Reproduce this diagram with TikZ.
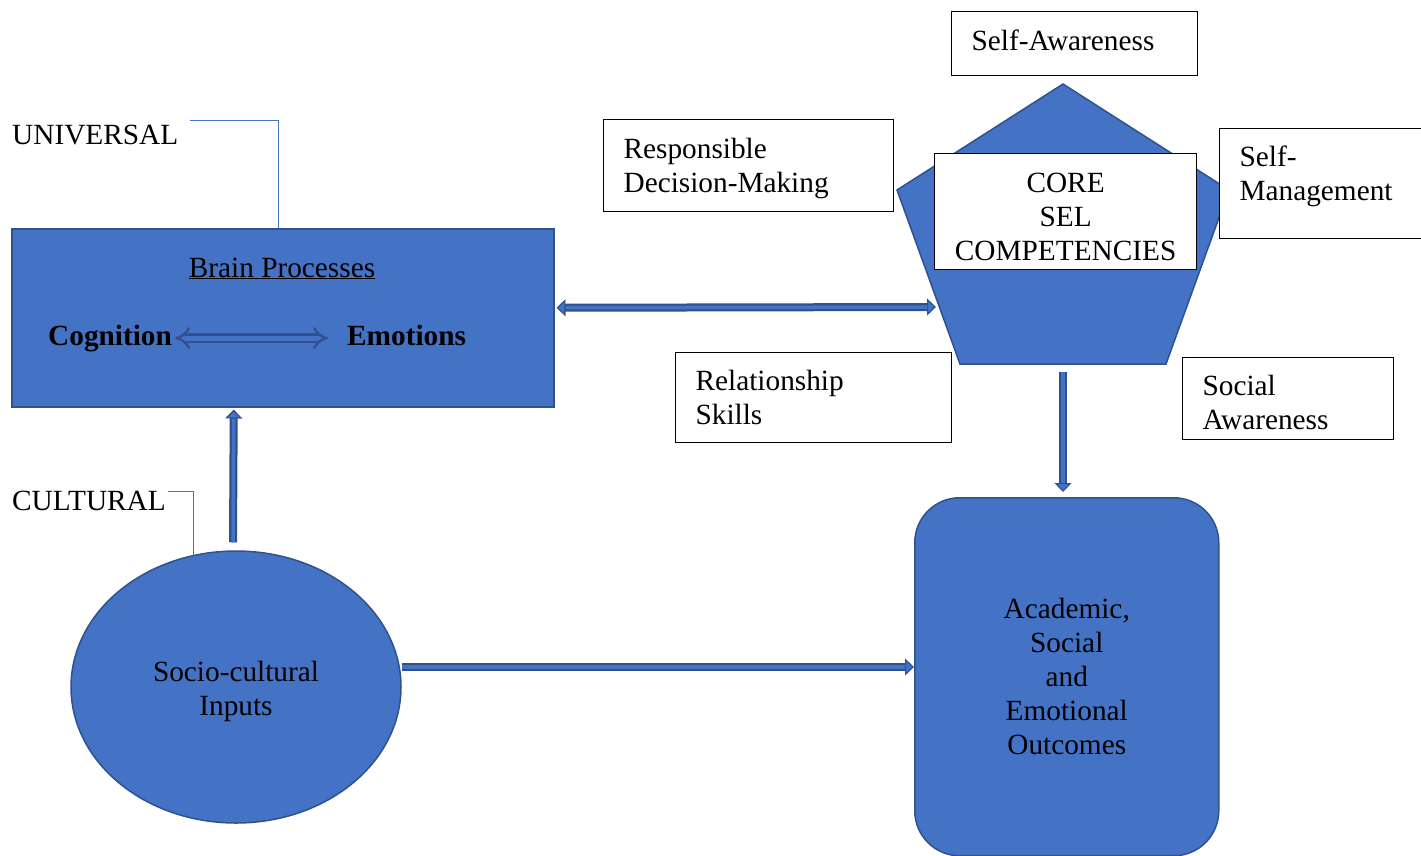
\documentclass[tikz,border=0pt]{standalone}
\usepackage{fontspec}
\setmainfont{Liberation Serif}
\usetikzlibrary{arrows.meta,shapes.geometric}

\definecolor{selblue}{HTML}{4472C4}   % shape fill
\definecolor{seldark}{HTML}{2F528F}   % shape outline / arrows

% struts to nudge text inside the boxes
\newcommand{\upstrut}[1]{\rule{0pt}{#1}}
\newcommand{\downstrut}[1]{\rule[-#1]{0pt}{0pt}}

\begin{document}
\begin{tikzpicture}[x=1pt, y=-1pt,
  font=\fontsize{29.3}{34}\selectfont]

% =======================================================
% Styles
% =======================================================
\tikzset{
  blueshape/.style = {fill=selblue, draw=seldark, line width=1.5pt},
  selbox/.style    = {draw=black, fill=white, line width=1.2pt,
                      inner xsep=20pt, inner ysep=0pt, align=left},
  tag/.style       = {inner sep=0pt},
  callout/.style   = {draw=selblue, line width=1pt},
  arrowbody/.style = {draw=seldark, line width=8pt},
  arrowcore/.style = {draw=selblue, line width=3.5pt},
  impl/.style      = {draw=seldark, double=selblue, double distance=5pt,
                      line width=2.4pt, {Implies}-{Implies}},
  selTip/.tip      = {Triangle[length=9pt, width=17pt, line width=1.2pt,
                      fill=selblue]},
}

\useasboundingbox (0,0) rectangle (1421,855);

% =======================================================
% Left side: brain processes and inputs
% =======================================================

\node[blueshape, minimum width=542, minimum height=178, anchor=north west]
    (brain) at (11,228) {};

\node[anchor=base] (braintitle) at (282,277) {\underline{Brain Processes}};

\node[tag, anchor=base west] (cog) at (48,345) {\textbf{Cognition}};
\node[tag, anchor=base west] (emo) at (347,345) {\textbf{Emotions}};

\draw[impl, shorten <=3pt, shorten >=19pt]
    (cog.east) -- (cog.east -| emo.west);

\node[blueshape, ellipse, inner sep=0pt, align=center,
      minimum width=330, minimum height=272]
    (inputs) at (236,687) {\upstrut{30pt}Socio-cultural\\Inputs};

% Labels with their callout lines
\node[tag, anchor=base west] (universal) at (12,144) {UNIVERSAL};
\node[tag, anchor=base west] (cultural) at (12,510) {CULTURAL};

\draw[callout]
    ([xshift=12pt,yshift=4pt]universal.north east) -| ([xshift=-4pt]brain.north);
\draw[callout]
    ([xshift=2pt,yshift=9pt]cultural.east) -| (inputs.108);

% =======================================================
% Right side: core competencies pentagon
% =======================================================

\coordinate (pT)  at (1063,84);
\coordinate (pR)  at (1229,190);
\coordinate (pBR) at (1166,364);
\coordinate (pBL) at (960,364);
\coordinate (pL)  at (897,190);

\draw[blueshape] (pT) -- (pR) -- (pBR) -- (pBL) -- (pL) -- cycle;

\node[selbox, align=center, inner xsep=0pt, minimum width=262,
      minimum height=116, anchor=north west]
    (core) at (934,153) {\upstrut{30pt}CORE\\SEL\\COMPETENCIES};

% the five competencies
\node[selbox, text width=206, minimum height=64, anchor=north west]
    (aware) at (951,11) {Self-Awareness\downstrut{6pt}};
\node[selbox, text width=250, minimum height=92, anchor=north west]
    (decision) at (603,119) {\upstrut{26pt}Responsible\\Decision-Making};
\node[selbox, text width=170, minimum height=110, anchor=north west]
    (manage) at (1219,128) {Self-\\Management\downstrut{20pt}};
\node[selbox, text width=236, minimum height=90, anchor=north west]
    (relation) at (675,352) {Relationship\\Skills};
\node[selbox, text width=171, minimum height=82, anchor=north west]
    (social) at (1182,357) {\upstrut{28pt}Social\\Awareness};

% outcomes
\node[blueshape, rounded corners=45, align=center, minimum width=304,
      minimum height=358, anchor=north west]
    (outcomes) at (914,497) {Academic,\\Social\\and\\Emotional\\Outcomes};

% =======================================================
% Block arrows (dark body, light core)
% =======================================================

\coordinate (pentL) at (936,307);
\coordinate (pentB) at (1063,372);
\coordinate (inR)   at ([yshift=20pt]inputs.east);

% inputs -> brain
\draw[arrowbody, -{selTip}]
    ([xshift=-3pt,yshift=8pt]inputs.north) -- ([xshift=-49pt,yshift=-2pt]brain.south);
\draw[arrowcore, shorten >=9pt]
    ([xshift=-3pt,yshift=8pt]inputs.north) -- ([xshift=-49pt,yshift=-2pt]brain.south);

% brain <-> competencies
\draw[arrowbody, {selTip}-{selTip}]
    ([xshift=2pt,yshift=10pt]brain.east) -- (pentL);
\draw[arrowcore, shorten <=9pt, shorten >=9pt]
    ([xshift=2pt,yshift=10pt]brain.east) -- (pentL);

% inputs -> outcomes
\draw[arrowbody, -{selTip}] (inR) -- (inR -| outcomes.west);
\draw[arrowcore, shorten >=9pt] (inR) -- (inR -| outcomes.west);

% competencies -> outcomes
\draw[arrowbody, -{selTip}, shorten >=5pt] (pentB) -- (pentB |- outcomes.north);
\draw[arrowcore, shorten >=14pt] (pentB) -- (pentB |- outcomes.north);

\end{tikzpicture}
\end{document}
